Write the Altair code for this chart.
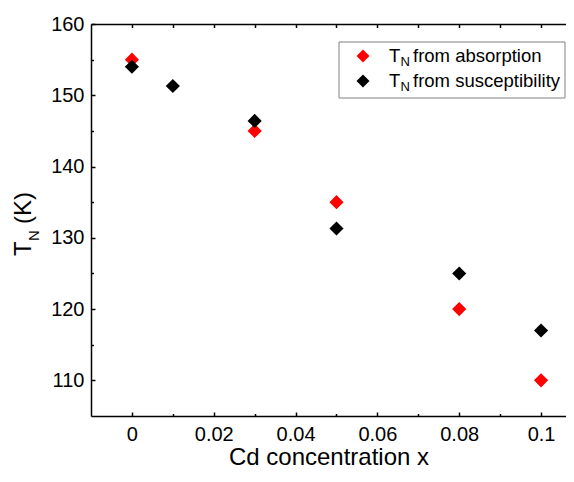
import altair as alt
import pandas as pd

# ---- data ----
x_absorption = [0.0, 0.03, 0.05, 0.08, 0.10]
tn_absorption = [155.0, 145.0, 135.0, 120.0, 110.0]
x_suscept = [0.0, 0.01, 0.03, 0.05, 0.08, 0.10]
tn_suscept = [154.0, 151.3, 146.4, 131.3, 125.0, 117.0]
series_names = ["from absorption", "from susceptibility"]
series_colors = ["#ff0000", "#000000"]

x_major = [0, 0.02, 0.04, 0.06, 0.08, 0.1]
x_minor = [0.01, 0.03, 0.05, 0.07, 0.09]
x_top = [0, 0.01, 0.02, 0.03, 0.04, 0.05, 0.06, 0.07, 0.08, 0.09, 0.1]
y_major = [110, 120, 130, 140, 150, 160]
y_minor = [115, 125, 135, 145, 155]
x_domain = [-0.01, 0.1061]
y_domain = [105, 160]

x_title = "Cd concentration x"
y_title_parts = ["T", "N", "(K)"]
legend_sym = "T"
legend_sub = "N"

FONT = "Liberation Sans"

df = pd.DataFrame({
    "x": x_absorption + x_suscept,
    "T": tn_absorption + tn_suscept,
    "series": [series_names[0]] * len(x_absorption) + [series_names[1]] * len(x_suscept),
})

W, H = 475, 392

xs = alt.Scale(domain=x_domain, nice=False, zero=False)
ys = alt.Scale(domain=y_domain, nice=False, zero=False)

base = alt.Chart(df)

points = base.mark_point(shape="diamond", filled=True, size=200, opacity=1).encode(
    x=alt.X("x:Q", scale=xs, axis=alt.Axis(
        orient="bottom", values=x_major, format="~g", ticks=False, tickSize=0,
        domain=True, domainColor="black", domainWidth=1.5, grid=False,
        labelFontSize=20, labelColor="black", labelPadding=8, labelFont=FONT,
        title=x_title, titleFontSize=24, titleFontWeight="normal", titleColor="black",
        titleFont=FONT, titlePadding=1)),
    y=alt.Y("T:Q", scale=ys, axis=alt.Axis(
        orient="left", values=y_major, format="d", ticks=False, tickSize=0,
        domain=True, domainColor="black", domainWidth=1.5, grid=False,
        labelFontSize=20, labelColor="black", labelPadding=7, labelFont=FONT,
        title=None)),
    color=alt.Color("series:N", scale=alt.Scale(domain=series_names, range=series_colors), legend=None),
)

def tick_axis(orient, values, size, offset):
    return alt.Axis(orient=orient, values=values, ticks=True, tickSize=size, offset=-offset,
                    tickColor="black", tickWidth=1.5, domain=False, labels=False,
                    grid=False, title=None)

major_ticks = base.mark_point(opacity=0).encode(
    x=alt.X("x:Q", scale=xs, axis=tick_axis("bottom", x_major, 4, 4)),
    y=alt.Y("T:Q", scale=ys, axis=tick_axis("left", y_major, 4, 4)),
)
minor_ticks = base.mark_point(opacity=0).encode(
    x=alt.X("x:Q", scale=xs, axis=tick_axis("bottom", x_minor, 2.5, 2.5)),
    y=alt.Y("T:Q", scale=ys, axis=tick_axis("left", y_minor, 2.5, 2.5)),
)
top_line = base.mark_point(opacity=0).encode(
    x=alt.X("x:Q", scale=xs, axis=alt.Axis(orient="top", ticks=False, labels=False, domain=True,
                                           domainColor="black", domainWidth=1.5, grid=False, title=None)),
    y=alt.Y("T:Q", scale=ys, axis=None),
)
top_ticks = base.mark_point(opacity=0).encode(
    x=alt.X("x:Q", scale=xs, axis=tick_axis("top", x_top, 3.5, 3.5)),
    y=alt.Y("T:Q", scale=ys, axis=None),
)

one = pd.DataFrame({"k": [0]})

# y-axis title with subscript
ytitle_T = alt.Chart(one).mark_text(text=y_title_parts[0], angle=270, align="left", baseline="alphabetic",
                                    fontSize=24, font=FONT, color="black").encode(
    x=alt.value(-60), y=alt.value(232))
ytitle_N = alt.Chart(one).mark_text(text=y_title_parts[1], angle=270, align="left", baseline="alphabetic",
                                    fontSize=15, font=FONT, color="black").encode(
    x=alt.value(-52), y=alt.value(217))
ytitle_K = alt.Chart(one).mark_text(text=y_title_parts[2], angle=270, align="left", baseline="alphabetic",
                                    fontSize=24, font=FONT, color="black").encode(
    x=alt.value(-60), y=alt.value(200))

# legend box
leg_box = alt.Chart(one).mark_rect(fill="white", stroke="#808080", strokeWidth=1).encode(
    x=alt.value(248), x2=alt.value(474), y=alt.value(18), y2=alt.value(74))

leg_rows = []
for i, (name, col) in enumerate(zip(series_names, series_colors)):
    cy = 32 + 25 * i
    leg_rows.append(alt.Chart(one).mark_point(shape="diamond", filled=True, size=170, opacity=1, color=col).encode(
        x=alt.value(272), y=alt.value(cy)))
    leg_rows.append(alt.Chart(one).mark_text(text=legend_sym, align="left", baseline="middle", fontSize=18.5,
                                             font=FONT, color="black").encode(x=alt.value(298), y=alt.value(cy)))
    leg_rows.append(alt.Chart(one).mark_text(text=legend_sub, align="left", baseline="middle", fontSize=13,
                                             font=FONT, color="black").encode(x=alt.value(309.5), y=alt.value(cy + 6)))
    leg_rows.append(alt.Chart(one).mark_text(text=name, align="left", baseline="middle", fontSize=18.5,
                                             font=FONT, color="black").encode(x=alt.value(322), y=alt.value(cy)))

chart = alt.layer(
    top_line, top_ticks, major_ticks, minor_ticks, points,
    ytitle_T, ytitle_N, ytitle_K, leg_box, *leg_rows,
).resolve_axis(x="independent", y="independent").properties(
    width=W, height=H,
    autosize=alt.AutoSizeParams(type="none"),
    padding={"left": 83, "top": 16, "right": 0, "bottom": 54},
).configure_view(stroke=None).configure(background="white")

chart.save("out.html", embed_options={"renderer": "svg", "actions": False})
